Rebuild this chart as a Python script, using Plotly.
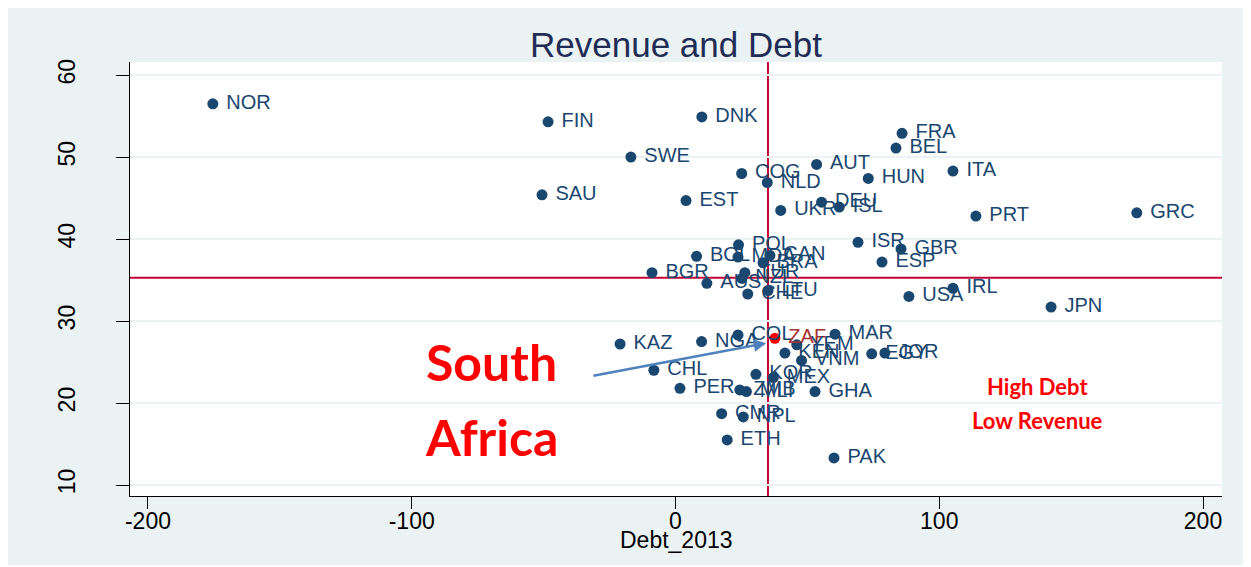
import plotly.graph_objects as go

# country codes, debt (x) and revenue (y)
country = ["NOR", "FIN", "DNK", "SWE", "SAU", "FRA", "BEL", "AUT", "ITA", "HUN",
           "COG", "NLD", "EST", "DEU", "ISL", "UKR", "PRT", "GRC", "POL", "ISR",
           "GBR", "BOL", "MDA", "CAN", "BRA", "BGR", "TUR", "NZL", "AUS", "LTU",
           "CHE", "ESP", "USA", "IRL", "JPN", "KAZ", "NGA", "COL", "ZAF", "MAR",
           "YEM", "KEN", "VNM", "EGY", "JOR", "CHL", "KOR", "MEX", "PER", "ZMB",
           "MLI", "GHA", "CMR", "NPL", "ETH", "PAK"]
debt_2013 = [-175.4, -48.3, 10.0, -16.9, -50.6, 85.9, 83.6, 53.5, 105.2, 73.1,
             25.1, 34.8, 4.0, 55.4, 62.1, 39.9, 113.9, 174.9, 23.9, 69.2,
             85.5, 8.0, 23.7, 35.8, 33.2, -8.9, 26.3, 25.2, 11.9, 35.1,
             27.4, 78.3, 88.5, 105.2, 142.4, -21.0, 9.9, 23.7, 37.7, 60.5,
             46.0, 41.5, 47.8, 74.4, 79.4, -8.2, 30.5, 37.1, 1.7, 24.4,
             26.9, 52.9, 17.5, 25.7, 19.6, 60.1]
revenue = [56.5, 54.3, 54.9, 50.0, 45.4, 52.9, 51.1, 49.1, 48.3, 47.4,
           48.0, 46.9, 44.7, 44.5, 43.9, 43.5, 42.8, 43.2, 39.3, 39.6,
           38.8, 37.9, 37.8, 38.0, 37.1, 35.9, 35.9, 35.2, 34.6, 33.7,
           33.3, 37.2, 33.0, 34.0, 31.7, 27.2, 27.5, 28.3, 27.9, 28.4,
           27.1, 26.1, 25.2, 26.0, 26.1, 24.0, 23.5, 23.1, 21.8, 21.6,
           21.4, 21.4, 18.7, 18.3, 15.5, 13.3]

mean_debt = 35.07
mean_revenue = 35.28

x_ticks = [-200, -100, 0, 100, 200]
y_ticks = [10, 20, 30, 40, 50, 60]

navy = "#1a476f"
marker_colors = ["#ff0000" if c == "ZAF" else navy for c in country]
label_colors = ["#a83232" if c == "ZAF" else navy for c in country]

fig = go.Figure()
fig.add_trace(go.Scatter(
    x=debt_2013, y=revenue,
    mode="markers+text",
    text=["\u00a0" + c for c in country],
    textposition="middle right",
    marker=dict(color=marker_colors, size=11),
    textfont=dict(color=label_colors, size=20, family="Liberation Sans, Arial"),
    cliponaxis=False,
    showlegend=False))

# reference lines at the means
fig.add_vline(x=mean_debt, line=dict(color="#c10534", width=2), layer="below")
fig.add_hline(y=mean_revenue, line=dict(color="#c10534", width=2), layer="below")

# callouts
fig.add_annotation(x=-69.6, y=25.0, text="<b>South</b>", showarrow=False,
                   font=dict(color="#ff0000", size=50, family="Lato"))
fig.add_annotation(x=-69.6, y=15.85, text="<b>Africa</b>", showarrow=False,
                   font=dict(color="#ff0000", size=50, family="Lato"))
fig.add_annotation(x=34.4, y=27.3, ax=-31.7, ay=23.3, axref="x", ayref="y",
                   text="", showarrow=True, arrowhead=2, arrowsize=1,
                   arrowwidth=2.5, arrowcolor="#4f81bd")
fig.add_annotation(x=137.1, y=22.07, text="<b>High Debt</b>", showarrow=False,
                   font=dict(color="#ff0000", size=22, family="Lato"))
fig.add_annotation(x=137.1, y=17.93, text="<b>Low Revenue</b>", showarrow=False,
                   font=dict(color="#ff0000", size=22, family="Lato"))
fig.add_annotation(xref="paper", yref="paper", x=0.5, y=-0.101, yanchor="middle",
                   text="Debt_2013", showarrow=False,
                   font=dict(color="black", size=23, family="Liberation Sans, Arial"))

fig.update_layout(
    width=1236, height=557,
    margin=dict(l=122, r=22, t=54, b=69, pad=0),
    paper_bgcolor="#eaf2f3", plot_bgcolor="white",
    title=dict(text="Revenue and Debt", x=0.5, xref="paper", xanchor="center",
               y=1 - 37 / 557, yref="container", yanchor="middle",
               font=dict(size=35, color="#1f2d56", family="Liberation Sans, Arial")),
    font=dict(family="Liberation Sans, Arial", color="black"),
)
fig.update_xaxes(range=[-206.8, 207.2], tickvals=x_ticks,
                 ticktext=[str(v) for v in x_ticks], ticks="outside",
                 ticklen=12, tickcolor="black", showline=True, linecolor="black",
                 showgrid=False, zeroline=False, tickfont=dict(size=23),
                 ticklabelstandoff=-8)
fig.update_yaxes(range=[8.66, 61.6], tickvals=y_ticks, tickangle=-90,
                 ticks="outside", ticklen=13, tickcolor="black", showline=True,
                 linecolor="black", showgrid=True, gridcolor="#eaf2f3", gridwidth=2,
                 zeroline=False, tickfont=dict(size=23), ticklabelstandoff=32)

fig.write_html("out.html")
